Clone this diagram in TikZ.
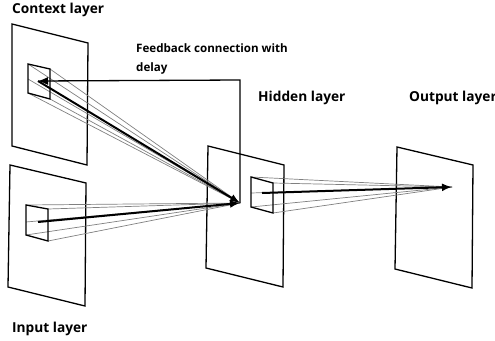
\documentclass[tikz,border=0pt]{standalone}
\usepackage{fontspec}
\setmainfont{Open Sans}
\usetikzlibrary{arrows.meta}

\begin{document}
\begin{tikzpicture}[x=1pt, y=-1pt,
        plane/.style={draw, line width=1.3pt, line join=miter},
        ray/.style={gray, line width=0.7pt},
        bigarrow/.style={line width=2pt, -{Latex[length=10pt, width=8pt]}},
        lbl/.style={anchor=base west, inner sep=0pt, font=\bfseries\fontsize{13.7}{16}\selectfont}]
            \useasboundingbox (0, 0) rectangle (495, 340);
            % layers
            \draw[plane] (12, 24) -- (88, 43) -- (87, 165) -- (12, 146) -- cycle;
            \draw[plane] (10, 165) -- (86, 183) -- (85, 306) -- (8, 287) -- cycle;
            \draw[plane] (208, 146) -- (284, 165) -- (283, 287) -- (206, 268) -- cycle;
            \draw[plane] (397, 147) -- (473, 165) -- (472, 288) -- (395, 269) -- cycle;
            % end points
            \coordinate (ctx) at (38, 81);
            \coordinate (inp) at (38, 222);
            \coordinate (hid) at (240, 203);
            \coordinate (hidsrc) at (262, 193);
            \coordinate (out) at (452, 187);
            \coordinate (fbk) at (240, 80);
            % small boxes and their rays
            \draw[ray] (28, 64) -- (hid);
            \draw[ray] (50, 69) -- (hid);
            \draw[ray] (28, 79) -- (hid);
            \draw[ray] (50, 99) -- (hid);
            \draw[ray] (28, 93) -- (hid);
            \draw[plane] (28, 64) -- (50, 69) -- (50, 99) -- (28, 93) -- cycle;
            \draw[ray] (26, 205) -- (hid);
            \draw[ray] (48, 209) -- (hid);
            \draw[ray] (26, 222) -- (hid);
            \draw[ray] (48, 241) -- (hid);
            \draw[ray] (26, 235) -- (hid);
            \draw[plane] (26, 205) -- (48, 209) -- (48, 241) -- (26, 235) -- cycle;
            \draw[ray] (251, 177) -- (out);
            \draw[ray] (273, 183) -- (out);
            \draw[ray] (251, 193) -- (out);
            \draw[ray] (273, 213) -- (out);
            \draw[ray] (251, 207) -- (out);
            \draw[plane] (251, 177) -- (273, 183) -- (273, 213) -- (251, 207) -- cycle;
            % connections
            \draw[bigarrow] (ctx) -- (hid);
            \draw[bigarrow] (inp) -- (hid);
            \draw[bigarrow] (hidsrc) -- (out);
            \draw[bigarrow, line width=1.3pt] (hid) -- (fbk) -- (ctx);
            % labels
            \node[lbl] at (12, 13) (ctxlbl) {Context layer};
            \node[lbl] at (12, 332) (inplbl) {Input layer};
            \node[lbl] at (258, 101) (hidlbl) {Hidden layer};
            \node[lbl] at (409, 101) (outlbl) {Output layer};
            \node[lbl, font=\bfseries\fontsize{11.6}{19}\selectfont, align=left, anchor=north west] at (136, 43) (fbklbl) {Feedback connection with\\delay};
    \end{tikzpicture}
\end{document}
